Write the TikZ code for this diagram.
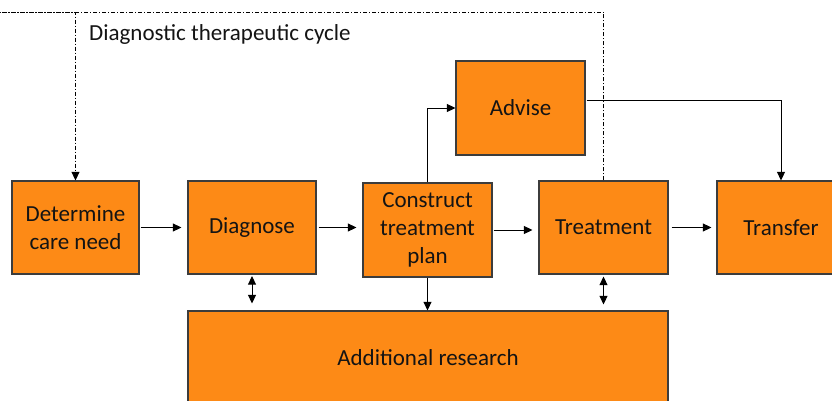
\documentclass[tikz,border=0pt]{standalone}
\usepackage{fontspec}
\setmainfont{Carlito}
\usetikzlibrary{arrows.meta}
\definecolor{boxfill}{RGB}{253,138,22}
\definecolor{boxline}{RGB}{60,60,60}
\definecolor{inktext}{RGB}{20,20,20}
\begin{document}
\begin{tikzpicture}[x=1pt,y=-1pt,
  stage/.style={draw=boxline, line width=1.2pt, fill=boxfill, inner sep=0pt,
    text=inktext, align=center, font=\fontsize{23}{28}\selectfont},
  flow/.style={draw=black, line width=0.9pt, -{Triangle[length=8.5pt,width=8pt]}},
  both/.style={draw=black, line width=0.9pt, {Triangle[length=8.5pt,width=8pt]}-{Triangle[length=8.5pt,width=8pt]}},
  cycle/.style={draw=black, line width=0.9pt, dash pattern=on 4pt off 2pt on 1pt off 2pt,
    -{Triangle[length=8.5pt,width=8pt]}}]
\useasboundingbox (0,0) rectangle (832,401);
\clip (0,0) rectangle (832,401);
\fill[white] (0,0) rectangle (832,401);

% process stages
\node[stage, minimum width=127pt, minimum height=93pt] (determine) at (75.5,227.5) {Determine\\care need};
\node[stage, minimum width=128pt, minimum height=93pt] (diagnose) at (252,227.5) {\raisebox{-1.5pt}{Diagnose}};
\node[stage, minimum width=129pt, minimum height=94pt] (construct) at (427.5,230) {Construct\\treatment\\plan};
\node[stage, minimum width=129pt, minimum height=93pt] (treatment) at (603.5,227.5) {Treatment};
\node[stage, minimum width=128pt, minimum height=93pt] (transfer) at (781,227.5) {Transfer};
\node[stage, minimum width=129pt, minimum height=94pt] (advise) at (520.5,108) {Advise};
\node[stage, minimum width=480pt, minimum height=93pt] (research) at (428,357.5) {Additional research};

% cycle frame
\coordinate (cycletop) at (0,12);
\node[anchor=base west, text=inktext, inner sep=0pt, font=\fontsize{23}{28}\selectfont] (cyclelabel) at (89,41) {Diagnostic therapeutic cycle};
\draw[cycle] (treatment.north) |- (cycletop) -| (determine.north);

% main flow
\draw[flow, shorten >=6pt, shorten <=1pt] (determine.east) -- (diagnose.west);
\draw[flow, shorten >=6pt, shorten <=2pt] (diagnose.east) -- (construct.west |- diagnose.east);
\draw[flow, shorten >=6pt, shorten <=1pt] (construct.east) -- (treatment.west |- construct.east);
\draw[flow, shorten >=5pt, shorten <=3pt] (treatment.east) -- (transfer.west);

% advice branch
\draw[flow] (construct.north) |- (advise.west);
\draw[flow] ([yshift=8pt,xshift=1pt]advise.east) -| (transfer.north);

% links with additional research
\draw[both, shorten >=7pt, shorten <=1.5pt] (diagnose.south) -- (diagnose.south |- research.north);
\draw[flow] (construct.south) -- (construct.south |- research.north);
\draw[both, shorten >=6pt, shorten <=2pt] (treatment.south) -- (treatment.south |- research.north);
\end{tikzpicture}
\end{document}
